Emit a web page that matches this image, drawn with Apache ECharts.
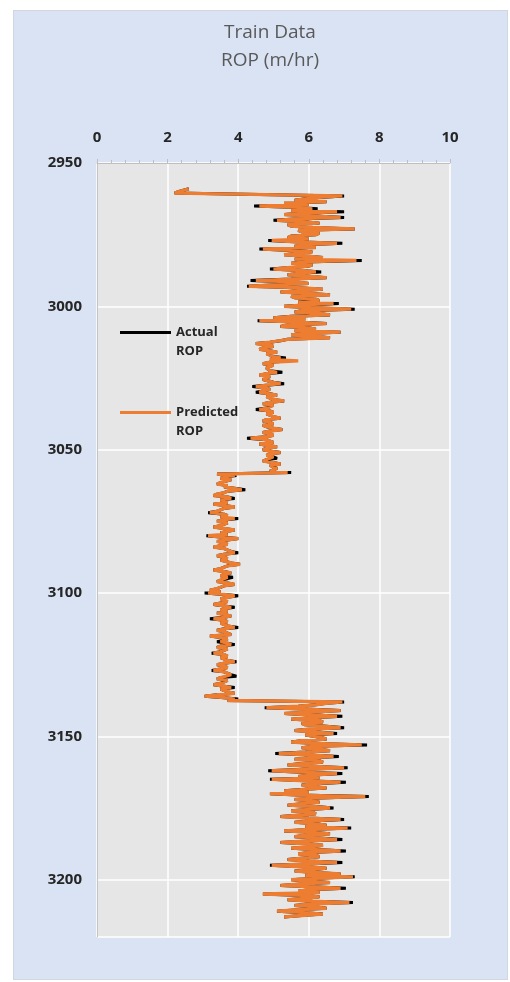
<!DOCTYPE html>
<html>
<head>
<meta charset="utf-8">
<script src="https://cdn.jsdelivr.net/npm/echarts@6/dist/echarts.min.js"></script>
<style>
  html, body { margin: 0; padding: 0; background: #ffffff; }
  #wrap { position: relative; width: 510px; height: 982px; }
  #bg { position: absolute; left: 13px; top: 10px; width: 495px; height: 970px; background: #dae3f3; border: 1px solid #d0d7e3; box-sizing: border-box; }
  #chart { position: absolute; left: 0; top: 0; width: 510px; height: 982px; }
</style>
</head>
<body>
<div id="wrap"><div id="bg"></div><div id="chart"></div></div>
<script>
// Depth sampling (m): first sample depth and step
const depthStart = 2959;
const depthStep = 0.5;

// Tick labels
const xTicks = [0, 2, 4, 6, 8, 10];
const yTicks = [2950, 3000, 3050, 3100, 3150, 3200];

// Predicted ROP (m/hr), one value every 0.5 m from 2959 m (10 values = 5 m per row)
const predictedROP = [
  2.6, 2.45, 2.3, 2.2, 2.25, 6.95, 6.3, 5.9, 5.6, 6.5,
  5.3, 6.0, 4.6, 5.7, 6.1, 5.5, 6.8, 5.8, 5.3, 6.2,
  6.9, 5.6, 5.1, 5.9, 6.3, 5.4, 5.5, 6.1, 7.3, 5.7,
  5.8, 6.3, 6.2, 5.5, 5.4, 6.0, 4.95, 5.6, 6.8, 5.9,
  5.6, 6.2, 4.7, 5.5, 6.1, 5.7, 5.3, 6.0, 6.4, 5.6,
  7.35, 5.9, 5.5, 6.1, 6.0, 5.4, 5.0, 5.8, 6.2, 5.7,
  5.4, 6.0, 6.5, 5.5, 4.5, 5.6, 6.0, 5.1, 4.3, 5.7,
  6.4, 5.8, 5.2, 6.0, 6.6, 5.5, 5.6, 6.2, 6.3, 5.7,
  6.7, 5.9, 5.3, 6.1, 7.2, 5.8, 5.6, 6.3, 6.6, 5.5,
  5.0, 5.9, 4.6, 5.7, 6.5, 5.4, 5.2, 6.0, 6.2, 5.6,
  6.9, 5.8, 5.5, 6.3, 6.6, 5.4, 5.2, 4.9, 4.5, 4.9,
  5.0, 4.7, 4.6, 4.9, 5.1, 4.8, 4.8, 5.0, 5.2, 4.9,
  5.7, 4.9, 4.7, 5.0, 5.0, 4.8, 4.8, 4.9, 5.1, 4.8,
  4.6, 4.9, 4.9, 4.7, 4.7, 5.0, 5.2, 4.8, 4.5, 4.8,
  4.9, 4.7, 4.6, 4.9, 5.1, 4.8, 4.8, 5.0, 5.3, 4.9,
  4.7, 5.0, 4.9, 4.8, 4.6, 4.9, 5.0, 4.8, 4.8, 5.0,
  5.2, 4.8, 4.7, 4.9, 5.0, 4.7, 4.8, 5.0, 5.25, 4.9,
  4.7, 4.9, 5.0, 4.8, 4.35, 4.8, 4.9, 5.0, 4.6, 4.8,
  5.1, 4.8, 4.7, 4.9, 5.2, 4.9, 4.8, 5.0, 5.0, 4.8,
  4.7, 5.0, 5.2, 4.9, 4.9, 5.1, 5.1, 4.9, 5.4, 3.4,
  3.9, 3.6, 3.5, 3.8, 3.8, 3.5, 3.4, 3.7, 3.6, 3.9,
  4.1, 3.7, 3.6, 3.4, 3.3, 3.7, 3.8, 3.5, 3.5, 3.7,
  3.3, 3.6, 3.9, 3.6, 3.6, 3.4, 3.2, 3.6, 3.7, 3.5,
  3.9, 3.6, 3.4, 3.7, 3.7, 3.5, 3.3, 3.6, 3.9, 3.7,
  3.5, 3.7, 3.15, 3.5, 4.0, 3.7, 3.4, 3.6, 3.7, 3.5,
  3.3, 3.6, 3.6, 3.8, 3.9, 3.6, 3.4, 3.6, 3.7, 3.5,
  3.5, 3.8, 4.05, 3.7, 3.6, 3.5, 3.3, 3.6, 3.8, 3.6,
  3.5, 3.7, 3.7, 3.5, 3.4, 3.7, 3.9, 3.6, 3.5, 3.4,
  3.2, 3.5, 3.15, 3.6, 3.9, 3.7, 3.5, 3.6, 3.7, 3.5,
  3.3, 3.6, 3.8, 3.6, 3.5, 3.7, 3.4, 3.6, 3.8, 3.6,
  3.3, 3.6, 3.7, 3.5, 3.5, 3.7, 3.9, 3.6, 3.4, 3.6,
  3.6, 3.8, 3.2, 3.5, 3.7, 3.6, 3.5, 3.7, 3.8, 3.5,
  3.4, 3.7, 3.6, 3.5, 3.3, 3.6, 3.7, 3.5, 3.5, 3.7,
  3.9, 3.6, 3.4, 3.6, 3.7, 3.5, 3.3, 3.6, 3.6, 3.8,
  3.8, 3.5, 3.4, 3.7, 3.6, 3.5, 3.3, 3.6, 3.8, 3.5,
  3.5, 3.7, 3.9, 3.4, 3.05, 3.6, 3.9, 3.7, 6.95, 6.5,
  6.2, 5.7, 4.8, 5.9, 6.9, 6.2, 5.3, 6.0, 6.8, 6.1,
  5.5, 6.3, 6.4, 5.8, 5.9, 6.5, 6.9, 6.0, 5.6, 6.2,
  6.7, 5.9, 5.9, 6.4, 6.5, 5.8, 5.5, 6.2, 7.5, 6.1,
  5.8, 6.3, 6.6, 5.9, 5.15, 6.0, 6.7, 6.1, 5.6, 6.3,
  6.4, 5.8, 5.4, 6.2, 7.0, 5.9, 4.95, 5.8, 6.8, 6.1,
  5.7, 6.3, 4.95, 5.9, 6.9, 6.2, 5.8, 6.1, 6.5, 5.9,
  5.3, 6.0, 4.9, 5.7, 7.6, 6.3, 5.6, 6.1, 6.3, 5.8,
  5.4, 6.2, 6.6, 6.0, 5.5, 6.1, 6.2, 5.7, 5.2, 6.0,
  6.9, 6.1, 5.6, 6.2, 6.5, 5.9, 7.1, 6.0, 5.3, 6.1,
  6.6, 5.9, 5.6, 6.3, 6.8, 6.0, 5.2, 5.9, 6.4, 6.1,
  5.5, 6.2, 6.9, 6.0, 5.7, 6.2, 6.3, 5.8, 5.4, 6.0,
  6.8, 6.0, 4.95, 5.8, 6.5, 6.1, 5.6, 6.2, 6.9, 5.9,
  7.25, 6.2, 5.5, 6.0, 6.6, 5.8, 5.2, 6.1, 6.9, 6.0,
  5.7, 6.3, 4.7, 5.8, 6.3, 5.9, 5.4, 6.1, 7.15, 6.0,
  5.6, 6.2, 6.5, 5.7, 5.1, 5.9, 6.4, 5.8, 5.3
];

// Actual ROP (m/hr), one value every 0.5 m from 2959 m (10 values = 5 m per row)
const actualROP = [
  2.6, 2.45, 2.3, 2.2, 2.25, 7.0, 6.3, 5.9, 5.6, 6.5,
  5.3, 6.0, 4.45, 5.7, 6.25, 5.5, 7.0, 5.8, 5.3, 6.2,
  7.0, 5.6, 5.0, 5.9, 6.3, 5.4, 5.5, 6.1, 7.3, 5.7,
  5.8, 6.3, 6.2, 5.5, 5.4, 6.0, 4.85, 5.6, 6.95, 5.9,
  5.6, 6.2, 4.6, 5.5, 6.1, 5.7, 5.3, 6.0, 6.4, 5.6,
  7.5, 5.9, 5.5, 6.1, 6.0, 5.4, 4.9, 5.8, 6.35, 5.7,
  5.4, 6.0, 6.5, 5.5, 4.35, 5.6, 6.0, 5.1, 4.25, 5.7,
  6.4, 5.8, 5.2, 6.0, 6.6, 5.5, 5.6, 6.2, 6.3, 5.7,
  6.85, 5.9, 5.3, 6.1, 7.3, 5.8, 5.6, 6.3, 6.6, 5.5,
  5.0, 5.9, 4.55, 5.7, 6.5, 5.4, 5.2, 6.0, 6.2, 5.6,
  6.9, 5.8, 5.5, 6.3, 6.6, 5.4, 5.2, 4.9, 4.5, 4.9,
  5.0, 4.7, 4.6, 4.9, 5.1, 4.8, 4.8, 5.0, 5.35, 4.9,
  5.5, 4.9, 4.7, 5.0, 5.0, 4.8, 4.8, 4.9, 5.25, 4.8,
  4.6, 4.9, 4.9, 4.7, 4.7, 5.0, 5.3, 4.8, 4.4, 4.8,
  4.9, 4.7, 4.5, 4.9, 5.1, 4.8, 4.8, 5.0, 5.3, 4.9,
  4.7, 5.0, 4.9, 4.8, 4.5, 4.9, 5.0, 4.8, 4.8, 5.0,
  5.2, 4.8, 4.7, 4.9, 5.0, 4.7, 4.8, 5.0, 5.25, 4.9,
  4.7, 4.9, 5.0, 4.8, 4.25, 4.8, 4.9, 5.0, 4.6, 4.8,
  5.1, 4.8, 4.7, 4.9, 5.2, 4.9, 4.8, 5.0, 5.1, 4.8,
  4.7, 5.0, 5.2, 4.9, 4.9, 5.1, 5.1, 4.9, 5.5, 3.4,
  3.95, 3.6, 3.5, 3.8, 3.8, 3.5, 3.4, 3.7, 3.6, 3.95,
  4.2, 3.7, 3.6, 3.4, 3.3, 3.7, 3.9, 3.5, 3.5, 3.7,
  3.3, 3.6, 3.9, 3.6, 3.6, 3.4, 3.15, 3.6, 3.7, 3.5,
  4.0, 3.6, 3.4, 3.7, 3.7, 3.5, 3.3, 3.6, 3.9, 3.7,
  3.5, 3.7, 3.1, 3.5, 4.0, 3.7, 3.4, 3.6, 3.7, 3.5,
  3.3, 3.6, 3.6, 3.8, 4.0, 3.6, 3.4, 3.6, 3.7, 3.5,
  3.5, 3.8, 4.05, 3.7, 3.6, 3.5, 3.3, 3.6, 3.8, 3.6,
  3.5, 3.85, 3.7, 3.5, 3.4, 3.7, 3.9, 3.6, 3.5, 3.4,
  3.2, 3.5, 3.05, 3.6, 4.0, 3.7, 3.5, 3.6, 3.7, 3.5,
  3.3, 3.6, 3.9, 3.6, 3.5, 3.7, 3.4, 3.6, 3.8, 3.6,
  3.2, 3.6, 3.7, 3.5, 3.5, 3.7, 4.0, 3.6, 3.4, 3.6,
  3.6, 3.8, 3.2, 3.5, 3.7, 3.6, 3.4, 3.7, 3.9, 3.5,
  3.4, 3.7, 3.6, 3.5, 3.25, 3.6, 3.7, 3.5, 3.5, 3.7,
  3.95, 3.6, 3.4, 3.6, 3.7, 3.5, 3.25, 3.6, 3.6, 3.8,
  3.95, 3.5, 3.4, 3.7, 3.6, 3.5, 3.3, 3.6, 3.9, 3.5,
  3.5, 3.7, 3.9, 3.4, 3.05, 3.6, 4.0, 3.7, 7.0, 6.5,
  6.2, 5.7, 4.75, 5.9, 6.9, 6.2, 5.3, 6.0, 6.95, 6.1,
  5.5, 6.3, 6.4, 5.8, 5.9, 6.5, 7.0, 6.0, 5.6, 6.2,
  6.8, 5.9, 5.9, 6.4, 6.5, 5.8, 5.5, 6.2, 7.65, 6.1,
  5.8, 6.3, 6.6, 5.9, 5.05, 6.0, 6.85, 6.1, 5.6, 6.3,
  6.4, 5.8, 5.4, 6.2, 7.1, 5.9, 4.85, 5.8, 6.95, 6.1,
  5.7, 6.3, 4.9, 5.9, 7.05, 6.2, 5.8, 6.1, 6.5, 5.9,
  5.3, 6.0, 4.9, 5.7, 7.7, 6.3, 5.6, 6.1, 6.3, 5.8,
  5.4, 6.2, 6.7, 6.0, 5.5, 6.1, 6.2, 5.7, 5.2, 6.0,
  7.0, 6.1, 5.6, 6.2, 6.5, 5.9, 7.2, 6.0, 5.3, 6.1,
  6.6, 5.9, 5.6, 6.3, 6.95, 6.0, 5.2, 5.9, 6.4, 6.1,
  5.5, 6.2, 7.05, 6.0, 5.7, 6.2, 6.3, 5.8, 5.4, 6.0,
  6.95, 6.0, 4.9, 5.8, 6.5, 6.1, 5.6, 6.2, 6.9, 5.9,
  7.3, 6.2, 5.5, 6.0, 6.6, 5.8, 5.2, 6.1, 7.05, 6.0,
  5.7, 6.3, 4.7, 5.8, 6.3, 5.9, 5.4, 6.1, 7.25, 6.0,
  5.6, 6.2, 6.5, 5.7, 5.1, 5.9, 6.4, 5.8, 5.3
];

const depths = predictedROP.map((_, i) => depthStart + i * depthStep);
const FONT = "'Open Sans', 'Noto Sans', sans-serif";

const chart = echarts.init(document.getElementById('chart'), null, { renderer: 'canvas' });
chart.setOption({
  backgroundColor: 'transparent',
  animation: false,
  title: {
    text: 'Train Data\nROP (m/hr)',
    left: 265,
    top: 14,
    textAlign: 'center',
    textStyle: { fontFamily: FONT, fontSize: 19, fontWeight: 'normal', color: '#595959', lineHeight: 28 }
  },
  legend: {
    orient: 'vertical',
    left: 120,
    top: 304,
    padding: 0,
    itemWidth: 51,
    itemHeight: 3,
    itemGap: 23,
    icon: 'rect',
    data: ['Actual ROP', 'Predicted ROP'],
    formatter: name => ' \n' + name.replace(' ', '\n'),
    textStyle: { fontFamily: FONT, fontSize: 13, fontWeight: 'bold', color: '#262626', lineHeight: 19 }
  },
  grid: {
    left: 97, right: 60, top: 163, bottom: 45,
    show: true, backgroundColor: '#e7e6e6', borderWidth: 0
  },
  xAxis: {
    type: 'value',
    position: 'top',
    min: xTicks[0],
    max: xTicks[xTicks.length - 1],
    interval: 2,
    axisLine: { show: true, lineStyle: { color: '#bfbfbf', width: 1 } },
    axisTick: { show: true, inside: false, length: 4, lineStyle: { color: '#bfbfbf' } },
    minorTick: { show: true, splitNumber: 5, length: 3, lineStyle: { color: '#bfbfbf' } },
    splitLine: { show: true, lineStyle: { color: '#ffffff', width: 1.5 } },
    axisLabel: { fontFamily: FONT, fontSize: 15, fontWeight: 'bold', color: '#262626', margin: 18 }
  },
  yAxis: {
    type: 'value',
    inverse: true,
    min: yTicks[0],
    max: 3220,
    interval: 50,
    axisLine: { show: true, lineStyle: { color: '#c4c4c4', width: 1 } },
    axisTick: { show: false },
    splitLine: { show: true, lineStyle: { color: '#ffffff', width: 1.5 } },
    axisLabel: {
      fontFamily: FONT, fontSize: 15, fontWeight: 'bold', color: '#262626', margin: 15,
      showMaxLabel: false,
      formatter: v => String(v)
    }
  },
  series: [
    {
      name: 'Actual ROP',
      type: 'line',
      symbol: 'none',
      showSymbol: false,
      color: '#000000',
      lineStyle: { color: '#000000', width: 3 },
      data: depths.map((d, i) => [actualROP[i], d])
    },
    {
      name: 'Predicted ROP',
      type: 'line',
      symbol: 'none',
      showSymbol: false,
      color: '#ed7d31',
      lineStyle: { color: '#ed7d31', width: 3.3 },
      data: depths.map((d, i) => [predictedROP[i], d])
    }
  ]
});
</script>
</body>
</html>
